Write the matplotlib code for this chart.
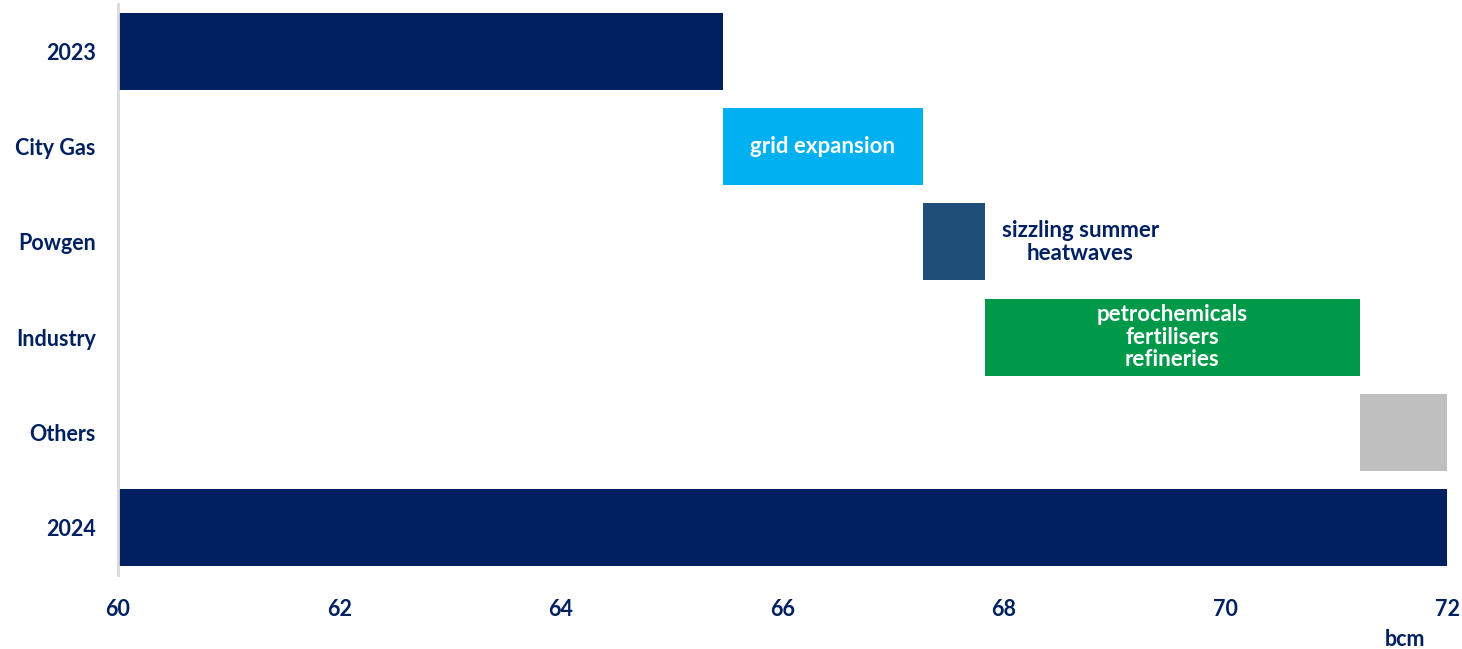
import matplotlib
matplotlib.use("Agg")
import matplotlib.pyplot as plt

plt.rcParams["font.family"] = ["Lato", "DejaVu Sans"]
plt.rcParams["font.weight"] = "bold"

# gas demand bridge, bcm
categories = ["2023", "City Gas", "Powgen", "Industry", "Others", "2024"]
start_2023 = 65.46
changes = [1.81, 0.56, 3.38, 0.79]
labels = ["grid expansion", "sizzling summer\nheatwaves",
          "petrochemicals\nfertilisers\nrefineries", ""]
xticks = [60, 62, 64, 66, 68, 70, 72]

navy = "#002060"
colors = [navy, "#00B0F0", "#1F4E79", "#00994A", "#BFBFBF", navy]

lefts = [60]
widths = [start_2023 - 60]
level = start_2023
for c in changes:
    lefts.append(level)
    widths.append(c)
    level += c
lefts.append(60)
widths.append(level - 60)

fig = plt.figure(figsize=(14.62, 6.49), dpi=100)
ax = fig.add_axes([118 / 1462, 1 - 575 / 649, (1447 - 118) / 1462, 571 / 649])

ypos = list(range(len(categories)))
ax.barh(ypos, widths, left=lefts, height=0.81, color=colors)

# annotations on the change bars
ax.text(lefts[1] + widths[1] / 2, 1, labels[0], color="white",
        ha="center", va="center", fontsize=16, fontweight="bold")
ax.text(lefts[2] + widths[2] + 0.15, 2, labels[1], color=navy,
        ha="left", va="center", fontsize=16, fontweight="bold",
        multialignment="center", linespacing=1.1)
ax.text(lefts[3] + widths[3] / 2, 3, labels[2], color="white",
        ha="center", va="center", fontsize=16, fontweight="bold",
        linespacing=1.1)

ax.set_xlim(60, 72)
ax.set_ylim(5.5, -0.5)
ax.set_yticks(ypos)
ax.set_yticklabels(categories)
ax.set_xticks(xticks)
ax.tick_params(axis="both", length=0, labelsize=15.5, labelcolor=navy)
ax.tick_params(axis="y", pad=16)
ax.tick_params(axis="x", pad=17)
for lab in ax.get_xticklabels() + ax.get_yticklabels():
    lab.set_fontweight("bold")

for s in ["top", "right", "bottom"]:
    ax.spines[s].set_visible(False)
ax.spines["left"].set_color("#D9D9D9")
ax.spines["left"].set_linewidth(2)

fig.text(1405 / 1462, 1 - 639 / 649, "bcm", color=navy, ha="center",
         va="center", fontsize=15.5, fontweight="bold")

fig.savefig("out.png", dpi=100)
